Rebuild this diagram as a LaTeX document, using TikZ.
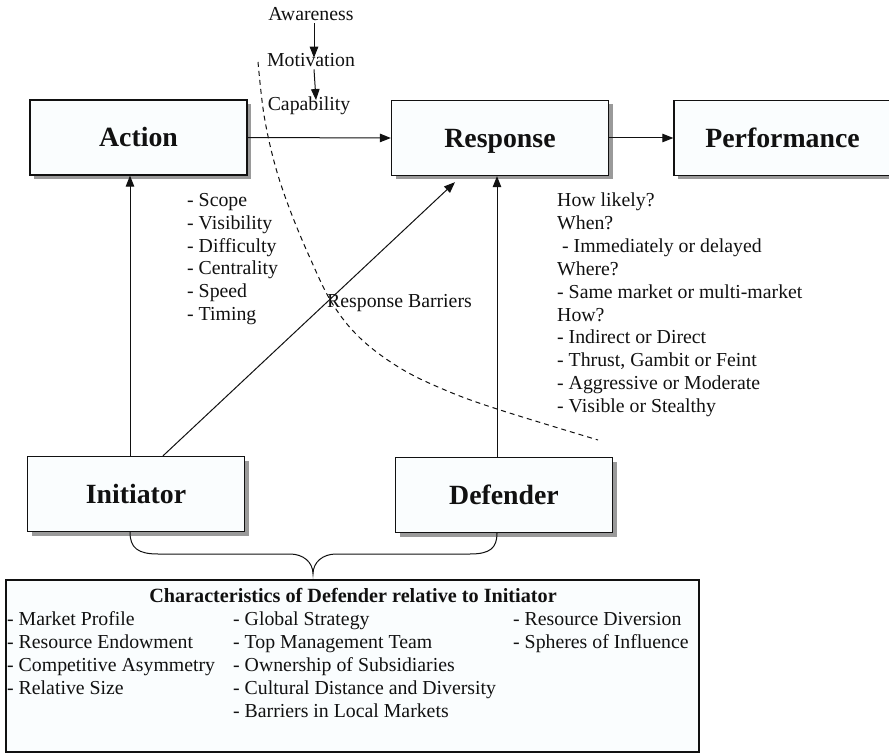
\documentclass[tikz,border=0pt]{standalone}
\usepackage{fontspec}
\setmainfont{Liberation Serif}
\usetikzlibrary{arrows.meta,shadows,calc}
\definecolor{boxfill}{HTML}{FAFDFE}
\definecolor{shadowgray}{HTML}{9A9A9A}
\definecolor{inkc}{HTML}{111111}
\begin{document}
\begin{tikzpicture}[x=1pt,y=-1pt,
  box/.style={draw=inkc, line width=1.3pt, fill=boxfill, minimum width=217pt, minimum height=75pt,
    inner sep=0pt, text height=18.5pt, text depth=0pt, text=inkc, font=\fontsize{27.8}{30}\selectfont\bfseries,
    drop shadow={shadow xshift=4pt, shadow yshift=-4pt, fill=shadowgray, opacity=1}},
  arr/.style={-{Triangle[length=11pt,width=8.5pt]}, line width=1pt, draw=inkc},
  lbl/.style={anchor=base west, inner sep=0pt, text=inkc, font=\fontsize{19.8}{23}\selectfont},
  ttl/.style={anchor=base, inner sep=0pt, text=inkc, font=\fontsize{19.8}{23}\selectfont},
]
\clip (0,0) rectangle (889,754);
\fill[white] (0,0) rectangle (889,754);

% main boxes
\node[box] (Action) at (138.5,137.5) {Action};
\node[box] (Response) at (500,138) {Response};
\node[box, minimum width=226pt] (Performance) at (787,138) {\hspace*{-9pt}Performance};
\node[box] (Initiator) at (136,494) {Initiator};
\node[box] (Defender) at (504,495) {Defender};

% bottom characteristics box
\node[draw=inkc, line width=1.3pt, fill=boxfill, minimum width=693pt, minimum height=172pt, inner sep=0pt]
  (chars) at (352.5,666) {};
\node[anchor=base, inner sep=0pt, text=inkc, font=\fontsize{20.2}{24}\selectfont\bfseries]
  (charttl) at (353,602) {Characteristics of Defender relative to Initiator};
\foreach \t [count=\i] in {- Market Profile, - Resource Endowment, - Competitive Asymmetry, - Relative Size}
  \node[lbl] (ca\i) at (7,602+23*\i) {\t};
\foreach \t [count=\i] in {- Global Strategy, - Top Management Team, - Ownership of Subsidiaries, - Cultural Distance and Diversity, - Barriers in Local Markets}
  \node[lbl] (cb\i) at (233,602+23*\i) {\t};
\foreach \t [count=\i] in {- Resource Diversion, - Spheres of Influence}
  \node[lbl] (cc\i) at (513,602+23*\i) {\t};

% awareness chain
\node[ttl] (aw) at (311,21) {Awareness};
\node[ttl] (mo) at (311,67) {Motivation};
\node[ttl] (ca) at (309,111) {Capability};
\draw[arr] ([xshift=3pt,yshift=-2pt]aw.south) -- ([xshift=3pt,yshift=-4pt]aw.south |- mo.north);
\draw[arr] ([xshift=3pt,yshift=-2pt]mo.south) -- ([xshift=5pt,yshift=-3pt]mo.south |- ca.north);

% action attributes
\foreach \t [count=\i] in {- Scope, - Visibility, - Difficulty, - Centrality, - Speed, - Timing}
  \node[lbl] (at\i) at (187,207+22.6*\i-22.6) {\t};

% response questions
\foreach \t [count=\i] in {How likely?, When?, \ - Immediately or delayed, Where?, - Same market or multi-market, How?, - Indirect or Direct, {- Thrust, Gambit or Feint}, - Aggressive or Moderate, - Visible or Stealthy}
  \node[lbl] (rq\i) at (557,207+22.8*\i-22.8) {\t};

\node[lbl] (rb) at (327,307) {Response Barriers};

% dashed barrier curve
\draw[dash pattern=on 5pt off 4pt, line width=1pt, draw=inkc]
  plot[smooth, tension=0.6] coordinates {(258,62) (264,115) (275,165) (290,210) (310,258) (332,303) (360,338) (400,368) (445,390) (497,409) (598,440)};

% connectors
\draw[arr] (Action.east) -- (Response.west);
\draw[arr] (Response.east) -- (Response.east -| Performance.west);
\draw[arr] ([xshift=-6pt]Initiator.north) -- ([xshift=-6pt]Initiator.north |- Action.south);
\draw[arr] ([xshift=-7pt]Defender.north) -- ([xshift=-7pt]Defender.north |- Response.south);
\draw[arr] ([xshift=27pt]Initiator.north) -- ($(Response.south)+(-45,6)$);

% brace
\coordinate (bl) at ([xshift=-6pt]Initiator.south);
\coordinate (br) at ([xshift=-7pt]Defender.south);
\coordinate (bt) at (313,574);
\draw[line width=1pt, draw=inkc]
  (bl) .. controls (130,548) and (138,554) .. (158,554) -- (290,554)
  .. controls (303,554) and (313,562) .. (bt)
  .. controls (313,562) and (323,554) .. (336,554) -- (470,554)
  .. controls (490,554) and (497,548) .. (br);
\end{tikzpicture}
\end{document}
